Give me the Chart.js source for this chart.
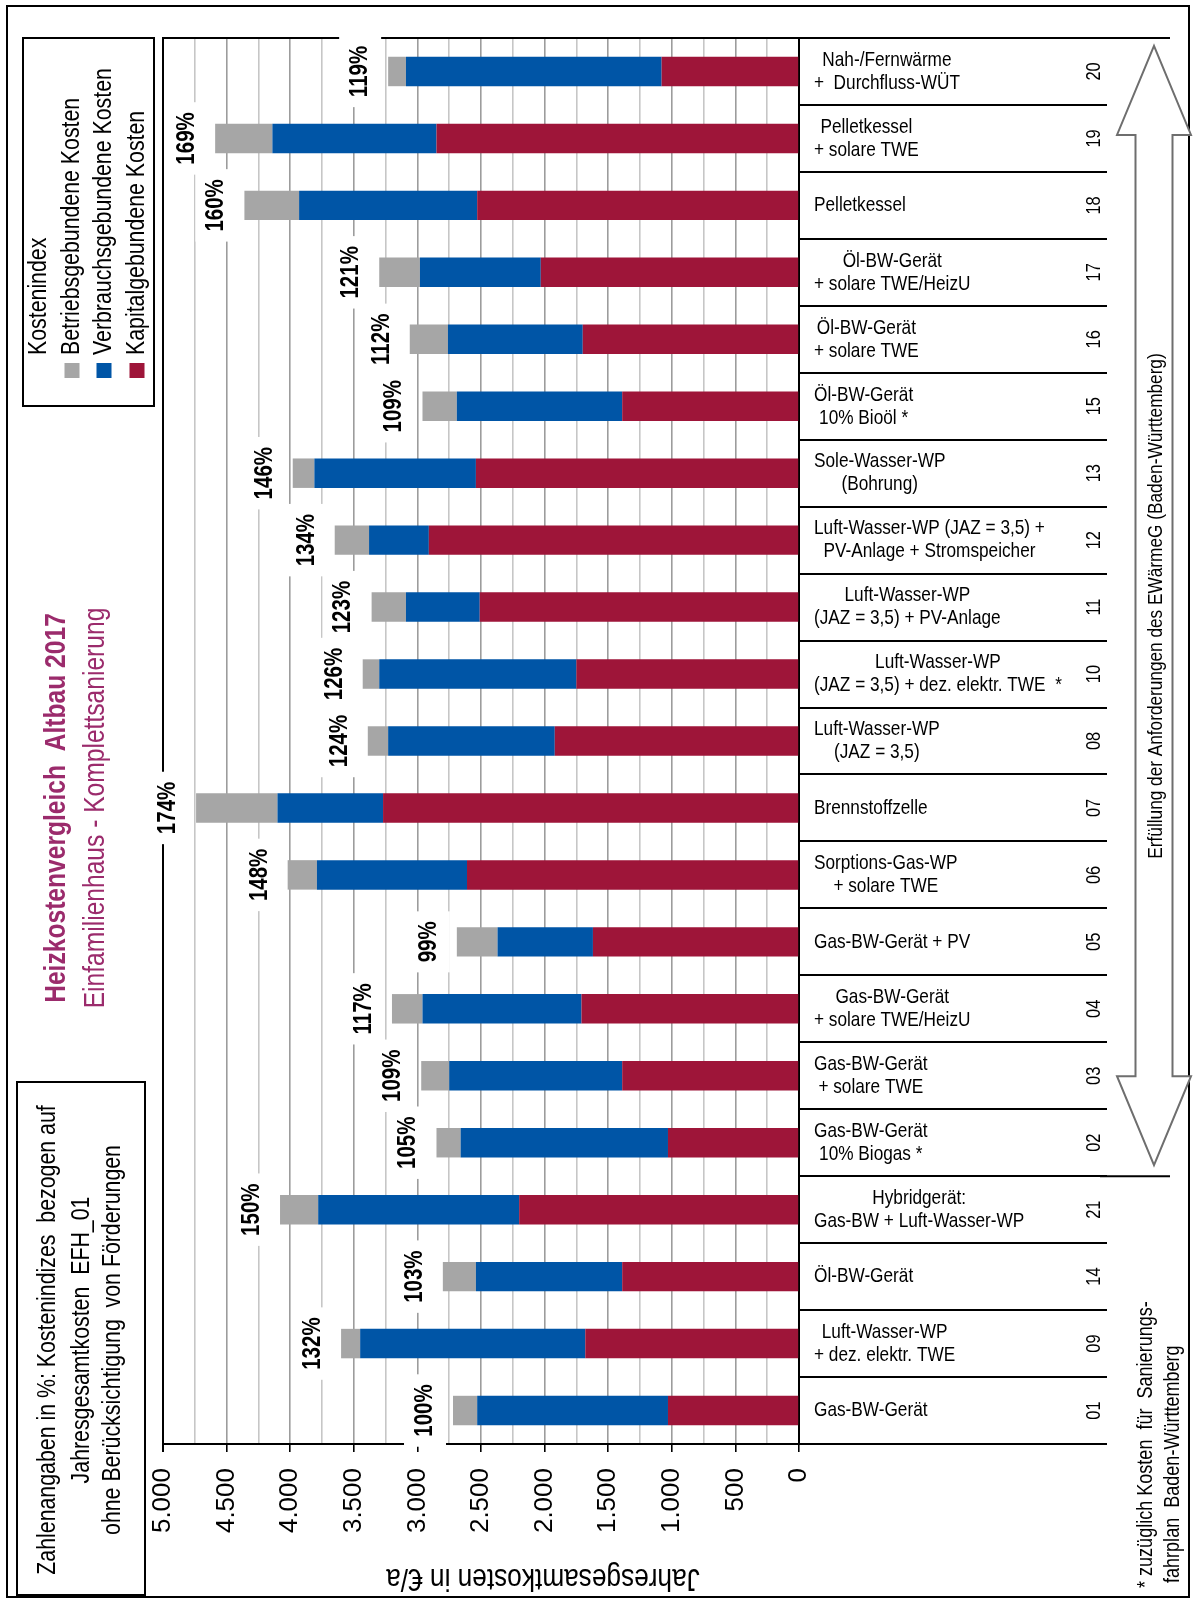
<!DOCTYPE html>
<html><head><meta charset="utf-8">
<script src="https://cdn.jsdelivr.net/npm/chart.js@4.4.1/dist/chart.umd.min.js"></script>
<style>
html,body{margin:0;padding:0;background:#fff;}
canvas{display:block;}
</style></head><body>
<canvas id="c" width="1195" height="1600"></canvas>
<script>
// ---------- data (top to bottom as in the picture) ----------
const categoryNumbers = ['20','19','18','17','16','15','13','12','11','10','08','07','06','05','04','03','02','21','14','09','01'];
const categoryLabels = [
  ['Nah-/Fernwärme','+  Durchfluss-WÜT'],
  ['Pelletkessel','+ solare TWE'],
  ['Pelletkessel'],
  ['Öl-BW-Gerät','+ solare TWE/HeizU'],
  ['Öl-BW-Gerät','+ solare TWE'],
  ['Öl-BW-Gerät','10% Bioöl *'],
  ['Sole-Wasser-WP','(Bohrung)'],
  ['Luft-Wasser-WP (JAZ = 3,5) +','PV-Anlage + Stromspeicher'],
  ['Luft-Wasser-WP','(JAZ = 3,5) + PV-Anlage'],
  ['Luft-Wasser-WP','(JAZ = 3,5) + dez. elektr. TWE  *'],
  ['Luft-Wasser-WP','(JAZ = 3,5)'],
  ['Brennstoffzelle'],
  ['Sorptions-Gas-WP','+ solare TWE'],
  ['Gas-BW-Gerät + PV'],
  ['Gas-BW-Gerät','+ solare TWE/HeizU'],
  ['Gas-BW-Gerät','+ solare TWE'],
  ['Gas-BW-Gerät','10% Biogas *'],
  ['Hybridgerät:','Gas-BW + Luft-Wasser-WP'],
  ['Öl-BW-Gerät'],
  ['Luft-Wasser-WP','+ dez. elektr. TWE'],
  ['Gas-BW-Gerät']
];
const kapitalKosten   = [1080,2850,2530,2030,1700,1390,2540,2910,2510,1750,1920,3270,2610,1620,1710,1390,1030,2200,1390,1680,1030];
const verbrauchKosten = [2010,1290,1400, 950,1060,1300,1270, 470, 580,1550,1310, 830,1180, 750,1250,1360,1630,1580,1150,1770,1500];
const betriebKosten   = [ 140, 450, 430, 320, 300, 270, 170, 270, 270, 130, 160, 640, 230, 320, 240, 220, 190, 300, 260, 150, 190];
const costIndex = ['119%','169%','160%','121%','112%','109%','146%','134%','123%','126%','124%','174%','148%','99%','117%','109%','105%','150%','103%','132%','100%'];
const valueTickLabels = {0:'0',500:'500',1000:'1.000',1500:'1.500',2000:'2.000',2500:'2.500',3000:'3.000',3500:'3.500',4000:'4.000',4500:'4.500',5000:'5.000'};
const seriesNames = ['Kapitalgebundene Kosten','Verbrauchsgebundene Kosten','Betriebsgebundene Kosten'];
const legendTitle = 'Kostenindex';
const chartTitle = 'Heizkostenvergleich  Altbau 2017';
const chartSubtitle = 'Einfamilienhaus - Komplettsanierung';
const infoLines = ['Zahlenangaben in %: Kostenindizes  bezogen auf','Jahresgesamtkosten  EFH_01','ohne Berücksichtigung  von Förderungen'];
const footnoteLines = ['* zuzüglich Kosten  für  Sanierungs-','fahrplan  Baden-Württemberg'];
const arrowText = 'Erfüllung der Anforderungen des EWärmeG (Baden-Württemberg)';
const axisTitle = 'Jahresgesamtkosten in €/a';
const arrowFromIndex = 0, arrowToIndex = 16; // EWärmeG rows: 20 .. 02

// ---------- styles ----------
const COLORS = ['#9e1539','#0055a6','#a6a6a6'];
const TITLE_COLOR = '#9b2b6c';
function hasFont(name){
  const c=document.createElement('canvas').getContext('2d');
  c.font='40px monospace'; const a=c.measureText('abcdefghiWWWmm').width;
  c.font='40px "'+name+'", monospace'; return c.measureText('abcdefghiWWWmm').width!==a;
}
const NARROW_OK = hasFont('Liberation Sans Narrow');
const FAMILY = NARROW_OK ? '"Liberation Sans Narrow", "Liberation Sans", Arial, sans-serif' : '"Liberation Sans", Arial, sans-serif';
const SQ = NARROW_OK ? 1 : 0.82;

function setFont(ctx,size,bold){ ctx.font=(bold?'bold ':'')+size+'px '+FAMILY; }
function tw(ctx,s,size,bold){ setFont(ctx,size,bold); return ctx.measureText(s).width*SQ; }
function txt(ctx,s,x,y,o){
  ctx.save(); ctx.translate(x,y); if(o.rot) ctx.rotate(o.rot);
  setFont(ctx,o.size,o.bold); if(SQ!==1) ctx.scale(SQ,1);
  ctx.fillStyle=o.color||'#000'; ctx.textAlign=o.align||'left'; ctx.textBaseline=o.baseline||'middle';
  ctx.fillText(s,0,0); ctx.restore();
}
const UP = -Math.PI/2;

const decor = {
  id:'decor',
  afterDraw(chart){
    const ctx=chart.ctx, xs=chart.scales.x, ys=chart.scales.y, ca=chart.chartArea;
    ctx.save();
    // outer frame
    ctx.strokeStyle='#000'; ctx.lineWidth=2;
    ctx.strokeRect(7,6,1182,1591);
    // top border line of plot / table
    ctx.beginPath(); ctx.moveTo(ca.left-1,ca.top); ctx.lineTo(1170,ca.top); ctx.stroke();
    // long separator below the EWärmeG block
    const ySep=(ys.getPixelForValue(arrowToIndex)+ys.getPixelForValue(arrowToIndex+1))/2;
    ctx.beginPath(); ctx.moveTo(1100,ySep); ctx.lineTo(1170,ySep); ctx.stroke();

    // category labels
    for(let i=0;i<categoryLabels.length;i++){
      const cy=ys.getPixelForValue(i), lines=categoryLabels[i];
      let mw=0; lines.forEach(l=>mw=Math.max(mw,tw(ctx,l,21,false)));
      const cx=814+mw/2;
      lines.forEach((l,j)=>{
        txt(ctx,l,cx,cy+(j-(lines.length-1)/2)*23,{size:21,align:'center'});
      });
      txt(ctx,categoryNumbers[i],1094,cy,{size:20,rot:UP,align:'center'});
    }

    // arrow
    const yTop=ys.getPixelForValue(arrowFromIndex)-33.5+8, yBot=ySep-11;
    const cx=1154, hw=37, sw=18.5, hh=89;
    ctx.beginPath();
    ctx.moveTo(cx,yTop); ctx.lineTo(cx+hw,yTop+hh); ctx.lineTo(cx+sw,yTop+hh);
    ctx.lineTo(cx+sw,yBot-hh); ctx.lineTo(cx+hw,yBot-hh); ctx.lineTo(cx,yBot);
    ctx.lineTo(cx-hw,yBot-hh); ctx.lineTo(cx-sw,yBot-hh); ctx.lineTo(cx-sw,yTop+hh);
    ctx.lineTo(cx-hw,yTop+hh); ctx.closePath();
    ctx.fillStyle='#fff'; ctx.fill(); ctx.strokeStyle='#6e6e6e'; ctx.lineWidth=2; ctx.stroke();
    txt(ctx,arrowText,cx+2,606,{size:21,rot:UP,align:'center'});

    // footnote
    txt(ctx,footnoteLines[0],1146,1588,{size:22,rot:UP,align:'left'});
    txt(ctx,footnoteLines[1],1173,1583,{size:22,rot:UP,align:'left'});

    // title
    txt(ctx,chartTitle,57,808,{size:30,bold:true,rot:UP,align:'center',color:TITLE_COLOR});
    txt(ctx,chartSubtitle,96,808,{size:30,rot:UP,align:'center',color:TITLE_COLOR});

    // legend box
    ctx.strokeStyle='#000'; ctx.lineWidth=2;
    ctx.strokeRect(23,38,131,368);
    txt(ctx,legendTitle,39,355,{size:26,rot:UP});
    const legendOrder=[2,1,0], lx=[72,104,137];
    legendOrder.forEach((d,k)=>{
      ctx.fillStyle=COLORS[d]; ctx.fillRect(lx[k]-7.5,363,15,15);
      txt(ctx,seriesNames[d],lx[k],355,{size:26,rot:UP});
    });

    // info box
    ctx.strokeRect(17,1082,128,513);
    const ix=[48,82,113];
    infoLines.forEach((l,k)=>txt(ctx,l,ix[k],1340,{size:26,rot:UP,align:'center'}));

    // axis title (upside down)
    txt(ctx,axisTitle,543,1578,{size:32,rot:Math.PI,align:'center'});

    // cost index labels
    for(let i=0;i<costIndex.length;i++){
      const total=kapitalKosten[i]+verbrauchKosten[i]+betriebKosten[i];
      const px=xs.getPixelForValue(total)-28, py=ys.getPixelForValue(i);
      const w=tw(ctx,costIndex[i],25,true);
      ctx.fillStyle='#fff'; ctx.fillRect(px-21,py-w/2-10,42,w+20);
      txt(ctx,costIndex[i],px,py,{size:25,bold:true,rot:UP,align:'center'});
    }
    ctx.restore();
  }
};

const is500 = v => v%500===0;
new Chart(document.getElementById('c').getContext('2d'),{
  type:'bar',
  data:{labels:categoryNumbers,datasets:[
    {label:seriesNames[0],data:kapitalKosten,backgroundColor:COLORS[0]},
    {label:seriesNames[1],data:verbrauchKosten,backgroundColor:COLORS[1]},
    {label:seriesNames[2],data:betriebKosten,backgroundColor:COLORS[2]}
  ]},
  options:{
    indexAxis:'y',responsive:false,animation:false,devicePixelRatio:1,
    layout:{padding:{left:163,top:38,right:0,bottom:0}},
    plugins:{legend:{display:false},tooltip:{enabled:false}},
    datasets:{bar:{categoryPercentage:1,barPercentage:0.44,borderWidth:0}},
    scales:{
      x:{stacked:true,reverse:true,min:0,max:5000,position:'bottom',
        afterFit(s){s.height=156;},
        ticks:{stepSize:250,autoSkip:false,minRotation:90,maxRotation:90,padding:16,color:'#000',
          font:{family:FAMILY,size:26},callback:v=>valueTickLabels[v]!==undefined?valueTickLabels[v]:''},
        grid:{drawTicks:true,tickLength:8,
          color:c=>(c.tick.value===5000||c.tick.value===0)?'#000':(is500(c.tick.value)?'#9c9c9c':'#c6c6c6'),
          lineWidth:c=>(c.tick.value===5000)?2:1.6,
          tickColor:c=>is500(c.tick.value)?'#000':'rgba(0,0,0,0)'},
        border:{display:true,color:'#000',width:2}},
      y:{stacked:true,position:'right',afterFit(s){s.width=396;},
        ticks:{display:false},
        grid:{offset:true,drawOnChartArea:false,drawTicks:true,tickLength:308,color:'#000',lineWidth:2},
        border:{display:true,color:'#000',width:2}}
    }
  },
  plugins:[decor]
});
</script>
</body></html>
